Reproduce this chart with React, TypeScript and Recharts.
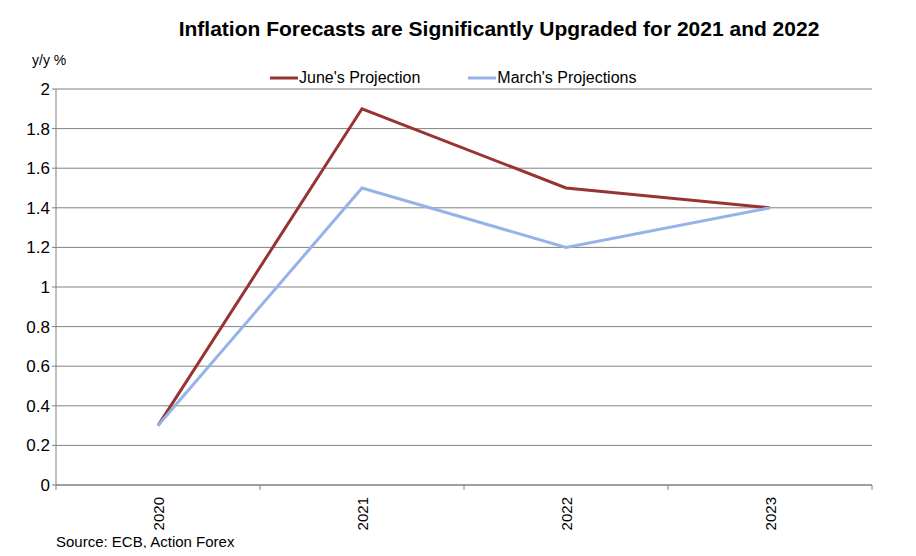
import { LineChart, Line, XAxis, YAxis, CartesianGrid } from 'recharts'

const years = ['2020', '2021', '2022', '2023']
const juneProjection = [0.3, 1.9, 1.5, 1.4]
const marchProjections = [0.3, 1.5, 1.2, 1.4]
const yTicks = [0, 0.2, 0.4, 0.6, 0.8, 1, 1.2, 1.4, 1.6, 1.8, 2]

const JUNE = '#993333'
const MARCH = '#95b3e8'
const AXIS = '#808080'
const FONT = 'Arial, "Liberation Sans", sans-serif'

const data = years.map((y, i) => ({ year: y, june: juneProjection[i], march: marchProjections[i] }))

// half a category band, so the tick marks sit between the years like the original
const HALF_BAND = 102

function YearTick(props: any) {
  const { x, y, payload, index } = props
  return (
    <g>
      <line x1={x - HALF_BAND} y1={y - 8} x2={x - HALF_BAND} y2={y - 3} stroke={AXIS} />
      {index === years.length - 1 && (
        <line x1={x + HALF_BAND} y1={y - 8} x2={x + HALF_BAND} y2={y - 3} stroke={AXIS} />
      )}
      <text
        x={x + 6}
        y={y + 4}
        transform={`rotate(-90 ${x + 6} ${y + 4})`}
        textAnchor="end"
        fontSize={15}
        fontFamily={FONT}
        fill="#000"
      >
        {payload.value}
      </text>
    </g>
  )
}

function LegendBox() {
  const items = [
    { label: "June's Projection", color: JUNE },
    { label: "March's Projections", color: MARCH },
  ]
  return (
    <div style={{ position: 'absolute', top: 61, left: 262, display: 'flex', fontSize: 16 }}>
      {items.map((it, i) => (
        <div key={i} style={{ display: 'flex', alignItems: 'center', marginRight: i === 0 ? 48 : 0 }}>
          <svg width={28} height={4} style={{ marginRight: 1 }}>
            <line x1={0} y1={2} x2={28} y2={2} stroke={it.color} strokeWidth={3} />
          </svg>
          <span>{it.label}</span>
        </div>
      ))}
    </div>
  )
}

export default function App() {
  return (
    <div style={{ position: 'relative', width: 900, height: 540, fontFamily: FONT }}>
      <div
        style={{
          position: 'absolute',
          left: 41,
          width: 900,
          top: 9,
          textAlign: 'center',
          fontWeight: 'bold',
          fontSize: 21,
        }}
      >
        Inflation Forecasts are Significantly Upgraded for 2021 and 2022
      </div>
      <div style={{ position: 'absolute', left: 24, top: 44, fontSize: 14 }}>y/y %</div>
      <div style={{ position: 'absolute', left: 48, top: 525, fontSize: 15 }}>Source: ECB, Action Forex</div>
      <LegendBox />
      <LineChart width={900} height={540} data={data} margin={{ top: 81, right: 36, bottom: 18, left: 0 }}>
        <CartesianGrid vertical={false} stroke={AXIS} />
        <XAxis
          dataKey="year"
          scale="band"
          stroke={AXIS}
          tickLine={false}
          height={45}
          tick={<YearTick />}
          interval={0}
        />
        <YAxis
          width={48}
          domain={[0, 2]}
          ticks={yTicks}
          stroke={AXIS}
          tickSize={4}
          tick={{ fill: '#000', fontSize: 17, fontFamily: FONT }}
          tickFormatter={(v: number) => String(Number(v.toFixed(1)))}
        />
        <Line
          dataKey="june"
          name="June's Projection"
          stroke={JUNE}
          strokeWidth={3}
          dot={false}
          isAnimationActive={false}
        />
        <Line
          dataKey="march"
          name="March's Projections"
          stroke={MARCH}
          strokeWidth={3}
          dot={false}
          isAnimationActive={false}
        />
      </LineChart>
    </div>
  )
}
